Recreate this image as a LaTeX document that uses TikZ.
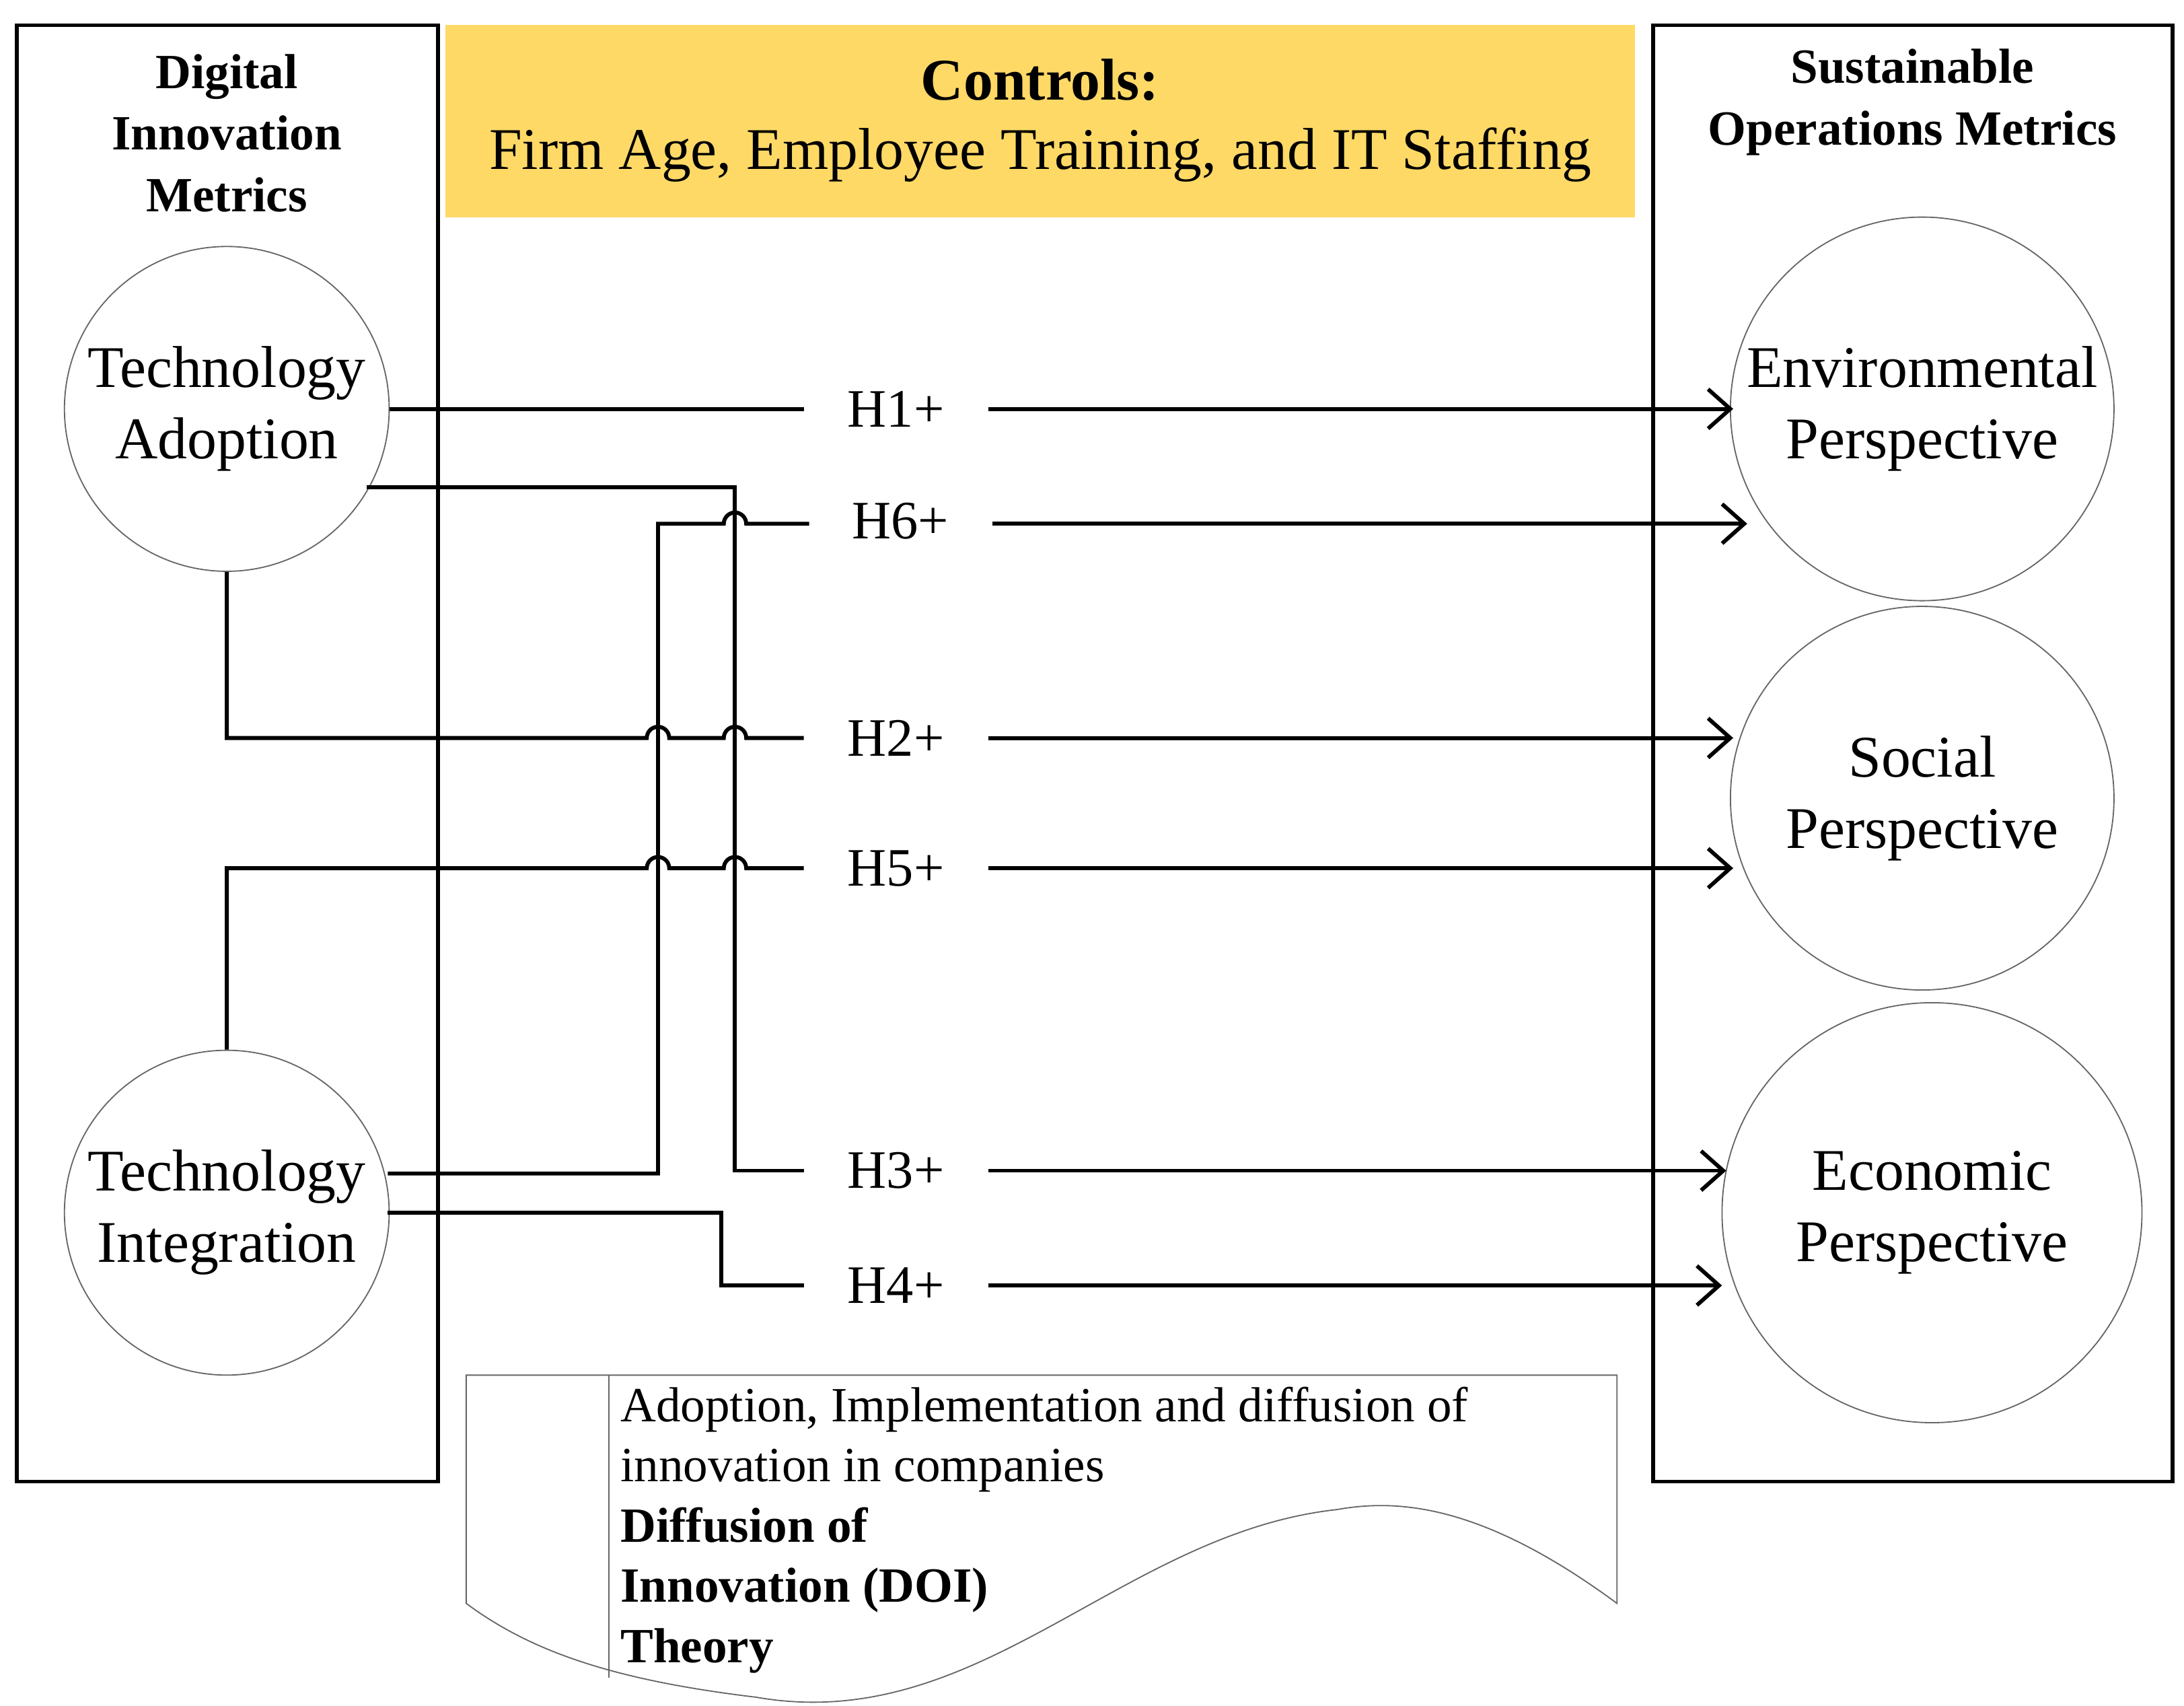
\documentclass[tikz,border=0pt]{standalone}
\usepackage{fontspec}
\setmainfont{Liberation Serif}
\usetikzlibrary{arrows.meta}
\definecolor{ctrl}{HTML}{FFD966}
\begin{document}
\begin{tikzpicture}[x=0.02cm,y=-0.02cm,
  frame/.style={draw,line width=1.6pt},
  circ/.style={circle,draw=black!60,line width=0.5pt,align=center,font=\fontsize{24}{29}\selectfont,inner sep=0pt},
  hlab/.style={font=\fontsize{22}{26}\selectfont,inner xsep=0.62cm,inner ysep=2pt},
  conn/.style={line width=1.6pt},
  arr/.style={conn,-{Straight Barb[length=9pt,width=16pt,line width=1.6pt]}},
  title/.style={font=\bfseries\fontsize{20}{25}\selectfont,align=center}]
\useasboundingbox (0,0) rectangle (1560,1218);
\fill[white] (0,0) rectangle (1560,1218);
% frames
\draw[frame] (12,18) rectangle (313,1058);
\draw[frame] (1181,18) rectangle (1552,1058);
\fill[ctrl] (318,18) rectangle (1168,155);
\node[align=center,font=\fontsize{24}{28}\selectfont] (ctl) at (743,86) {\textbf{Controls:}\\Firm Age, Employee Training, and IT Staffing};
\node[title] (lt) at (162,95) {Digital\\Innovation\\Metrics};
\node[title] (rt) at (1366,73) {Sustainable\\Operations Metrics};
% circles
\node[circ,minimum size=4.64cm] (ta) at (162,292) {Technology\\Adoption};
\node[circ,minimum size=4.64cm] (ti) at (162,866) {Technology\\Integration};
\node[circ,minimum size=5.48cm] (env) at (1373,292) {Environmental\\Perspective};
\node[circ,minimum size=5.48cm] (soc) at (1373,570) {Social\\Perspective};
\node[circ,minimum size=6.0cm] (eco) at (1380,866) {Economic\\Perspective};
% labels
\node[hlab] (h1) at (640,292) {H1+};
\node[hlab] (h6) at (643,372) {H6+};
\node[hlab] (h2) at (640,527) {H2+};
\node[hlab] (h5) at (640,620) {H5+};
\node[hlab] (h3) at (640,836) {H3+};
\node[hlab] (h4) at (640,918) {H4+};
\coordinate (e1) at (1238,292);
\coordinate (e6) at (1248,374);
\coordinate (e2) at (1238,527);
\coordinate (e5) at (1238,620);
\coordinate (e3) at (1233,836);
\coordinate (e4) at (1230,918);
% connectors
\draw[conn] (ta.east) -- (h1.west);
\draw[arr] (h1.east) -- (e1);
\draw[conn] (262,348) -- (525,348) -- (525,836) -- (h3.west);
\draw[arr] (h3.east) -- (e3);
\draw[conn] (277,838) -- (470,838) -- (470,374) -- (517,374) arc[start angle=180,end angle=0,radius=0.16cm] -- (578,374);
\draw[arr] (h6.east |- e6) -- (e6);
\draw[conn] (ta.south) -- (162,527) -- (462,527) arc[start angle=180,end angle=0,radius=0.16cm] -- (517,527) arc[start angle=180,end angle=0,radius=0.16cm] -- (h2.west);
\draw[arr] (h2.east) -- (e2);
\draw[conn] (ti.north) -- (162,620) -- (462,620) arc[start angle=180,end angle=0,radius=0.16cm] -- (517,620) arc[start angle=180,end angle=0,radius=0.16cm] -- (h5.west);
\draw[arr] (h5.east) -- (e5);
\draw[conn] (277,866) -- (515,866) -- (515,918) -- (h4.west);
\draw[arr] (h4.east) -- (e4);
% document shape
\draw[black!60,line width=0.5pt] (333,982) -- (1155,982) -- (1155,1145)
  .. controls (1060,1075) and (1000,1070) .. (955,1078)
  .. controls (800,1095) and (700,1240) .. (540,1212)
  .. controls (440,1200) and (380,1180) .. (333,1145) -- cycle;
\draw[black!60,line width=0.5pt] (435,982) -- (435,1198);
\node[anchor=north west,align=left,font=\fontsize{20}{24.5}\selectfont,inner sep=0pt] (doi) at (443,990)
 {Adoption, Implementation and diffusion of\\innovation in companies\\
 \textbf{Diffusion of}\\\textbf{Innovation (DOI)}\\\textbf{Theory}};
\end{tikzpicture}
\end{document}
